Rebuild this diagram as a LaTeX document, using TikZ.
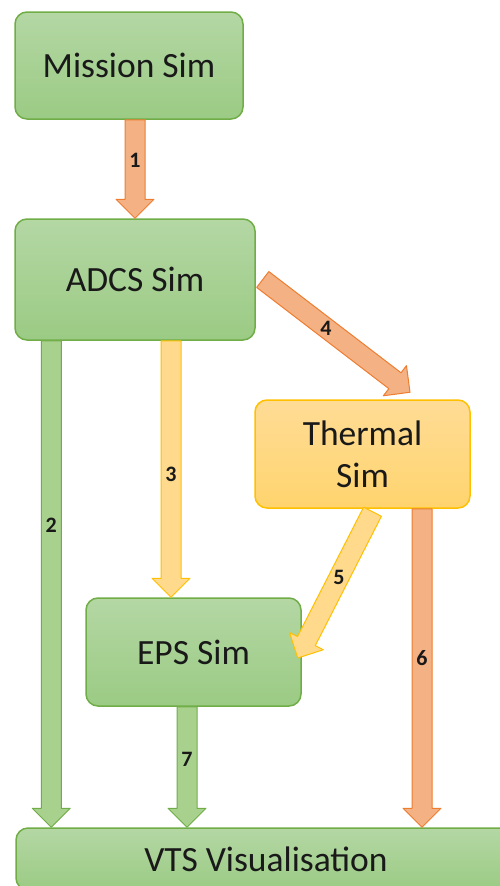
\documentclass[tikz,border=0pt]{standalone}
\usepackage{fontspec}
\setmainfont{Carlito}
\usetikzlibrary{calc}
\definecolor{grnline}{HTML}{70AD47}
\definecolor{grntop}{HTML}{B4D7A4}
\definecolor{grnbot}{HTML}{9BCB84}
\definecolor{grnfill}{HTML}{A9D18E}
\definecolor{ylwline}{HTML}{FFC000}
\definecolor{ylwtop}{HTML}{FFDC96}
\definecolor{ylwbot}{HTML}{FFD46E}
\definecolor{ylwfill}{HTML}{FFD98C}
\definecolor{orgline}{HTML}{ED7D31}
\definecolor{orgfill}{HTML}{F4B183}
\tikzset{
  simbox/.style={rounded corners=12pt, line width=1.5pt, draw=grnline,
    top color=grntop, bottom color=grnbot, text=black!90,
    font=\fontsize{35.5}{42}\selectfont, align=center, inner sep=0pt},
  hotbox/.style={simbox, draw=ylwline, top color=ylwtop, bottom color=ylwbot},
  grnarrow/.style={fill=grnfill, draw=grnline, line width=1pt, line join=round},
  ylwarrow/.style={fill=ylwfill, draw=ylwline, line width=1pt, line join=round},
  orgarrow/.style={fill=orgfill, draw=orgline, line width=1pt, line join=round},
  lbl/.style={font=\fontsize{22}{24}\selectfont\bfseries, text=black!90, inner sep=0pt}
}
\def\fatarrow[#1](#2)(#3)#4#5{
  \coordinate (fa-s) at (#2);
  \coordinate (fa-e) at (#3);
  \coordinate (fa-h) at ($(fa-e)!19pt!(fa-s)$);
  \draw[#1] ($(fa-s)!10pt!90:(fa-e)$) -- ($(fa-h)!10pt!90:(fa-e)$)
    -- ($(fa-h)!19pt!90:(fa-e)$) -- (fa-e) -- ($(fa-h)!19pt!-90:(fa-e)$)
    -- ($(fa-h)!10pt!-90:(fa-e)$) -- ($(fa-s)!10pt!-90:(fa-e)$) -- cycle;
  \node[lbl] at ($(fa-s)!#5!(fa-e)$) {#4};
}
\begin{document}
\begin{tikzpicture}[x=1pt, y=-1pt]
  \useasboundingbox (0,0) rectangle (500,886);

  %%%%% boxes %%%%%
  \node[simbox, minimum width=228pt, minimum height=107pt] (mission) at (129,65.5) {Mission Sim};
  \node[simbox, minimum width=240pt, minimum height=121pt] (adcs) at (135,279.5) {ADCS Sim};
  \node[hotbox, minimum width=215pt, minimum height=108pt] (thermal) at (362.5,454) {Thermal\\Sim};
  \node[simbox, minimum width=215pt, minimum height=108pt] (eps) at (193.5,652) {EPS Sim};
  \node[simbox, minimum width=500pt, minimum height=62pt] (vts) at (266,859) {VTS Visualisation};

  %%%%% connectors %%%%%
  \coordinate (a2) at ([xshift=37pt]adcs.south west);
  \coordinate (a3) at ([xshift=36pt]adcs.south);
  \coordinate (a4) at ([xshift=7pt]adcs.east);
  \coordinate (b4) at ([xshift=47.5pt, yshift=7pt]thermal.north);
  \coordinate (a5) at ([xshift=10pt, yshift=-3pt]thermal.south);
  \coordinate (b5) at ([xshift=-4pt, yshift=-6pt]eps.east);
  \coordinate (a6) at ([xshift=59.5pt]thermal.south);
  \coordinate (a7) at ([xshift=-6.5pt]eps.south);

  \fatarrow[orgarrow](adcs.north |- mission.south)(adcs.north){1}{0.41}
  \fatarrow[grnarrow](a2)(a2 |- vts.north){2}{0.38}
  \fatarrow[ylwarrow](a3)(a3 |- eps.north){3}{0.52}
  \fatarrow[orgarrow](a4)(b4){4}{0.43}
  \fatarrow[ylwarrow](a5)(b5){5}{0.45}
  \fatarrow[orgarrow](a6)(a6 |- vts.north){6}{0.47}
  \fatarrow[grnarrow](a7)(a7 |- vts.north){7}{0.44}
\end{tikzpicture}
\end{document}
